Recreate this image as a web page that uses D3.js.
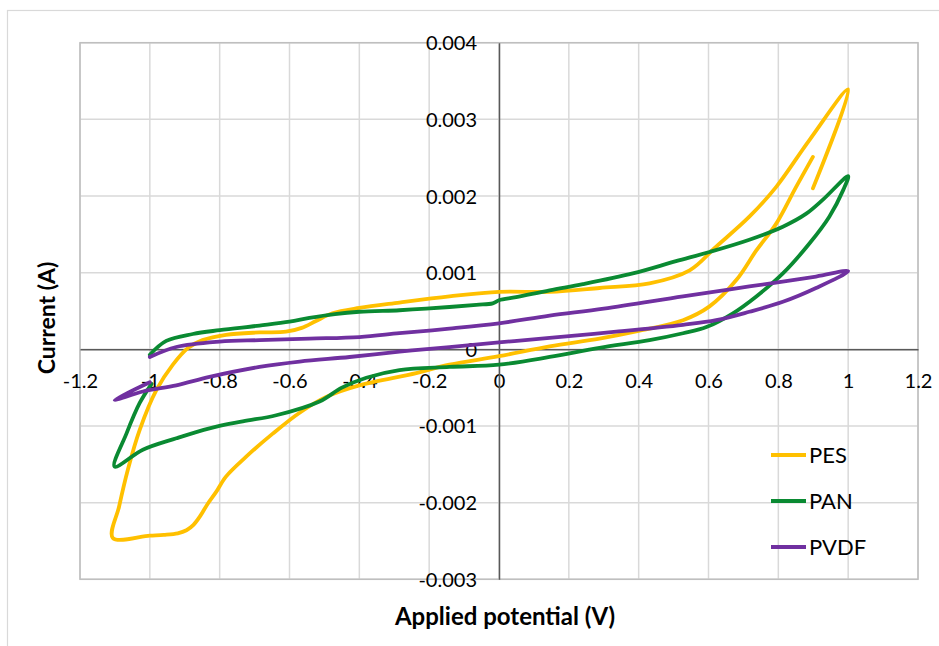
<!DOCTYPE html>
<html>
<head>
<meta charset="utf-8">
<script src="https://cdn.jsdelivr.net/npm/d3@7"></script>
<style>
body{margin:0;background:#fff;}
text{font-family:Lato,"Open Sans",sans-serif;fill:#000;}
</style>
</head>
<body>
<div id="chart"></div>
<script>
(function(){
var width = 939,
	height = 646,
	margin = {top:42.7, right:21, bottom:66.7, left:80};

// data: [applied potential (V), current (A)]
var pes = [[0.899,0.0021],[1.0,0.00339],[0.889,0.00273],[0.794,0.00212],[0.717,0.00173],[0.622,0.00134],[0.546,0.00103],
	[0.431,0.00086],[0.288,0.0008],[0.145,0.00075],[0,0.00075],[-0.142,0.00069],[-0.285,0.00061],[-0.4,0.00054],
	[-0.477,0.00047],[-0.524,0.00037],[-0.565,0.00028],[-0.61,0.00023],[-0.686,0.00022],[-0.782,0.00019],
	[-0.849,0.00012],[-0.89,0.00002],[-0.934,-0.0002],[-0.981,-0.00053],[-1.029,-0.00105],[-1.063,-0.00157],
	[-1.088,-0.00205],[-1.106,-0.00246],[-1.0,-0.00243],[-0.96,-0.00242],[-0.92,-0.0024],[-0.895,-0.00236],
	[-0.875,-0.00229],[-0.855,-0.00217],[-0.835,-0.00202],[-0.81,-0.00186],[-0.782,-0.00166],[-0.724,-0.0014],
	[-0.648,-0.0011],[-0.572,-0.00083],[-0.495,-0.00062],[-0.4,-0.00047],[-0.237,-0.00031],[-0.142,-0.0002],
	[0,-0.00009],[0.145,0.00004],[0.288,0.00014],[0.4,0.00024],[0.527,0.00038],[0.603,0.00056],[0.679,0.0009],
	[0.737,0.00129],[0.794,0.00164],[0.851,0.00212],[0.899,0.00251]];

var pan = [[-1.0,-0.00007],[-0.953,0.00011],[-0.877,0.0002],[-0.8,0.00025],[-0.686,0.00031],[-0.6,0.00036],
	[-0.543,0.00041],[-0.47,0.00046],[-0.4,0.00049],[-0.285,0.00051],[-0.209,0.00053],[-0.065,0.00058],
	[-0.018,0.0006],[0,0.00064],[0.049,0.00068],[0.145,0.00077],[0.24,0.00085],[0.383,0.00099],[0.507,0.00115],
	[0.603,0.00127],[0.717,0.00143],[0.813,0.0016],[0.88,0.00177],[0.927,0.00195],[1.0,0.00226],[0.986,0.00208],
	[0.946,0.00173],[0.889,0.00138],[0.813,0.00099],[0.737,0.00069],[0.67,0.00047],[0.594,0.00029],[0.527,0.00021],
	[0.431,0.00012],[0.288,0.00002],[0.145,-0.0001],[0,-0.0002],[-0.142,-0.00023],[-0.285,-0.00027],[-0.38,-0.00037],
	[-0.45,-0.0005],[-0.514,-0.00068],[-0.638,-0.00086],[-0.734,-0.00094],[-0.829,-0.00103],[-0.924,-0.00116],
	[-1.02,-0.00131],[-1.101,-0.00153],[-1.067,-0.0011],[-1.029,-0.0007],[-0.995,-0.00045]];

var pvdf = [[-1.0,-0.0001],[-0.924,0.00003],[-0.8,0.0001],[-0.686,0.00012],[-0.543,0.00014],[-0.4,0.00016],
	[-0.285,0.00021],[-0.142,0.00027],[0,0.00034],[0.145,0.00044],[0.3,0.00053],[0.527,0.00069],
	[0.717,0.00082],[0.908,0.00095],[1.0,0.00102],[0.908,0.0008],[0.813,0.00062],[0.717,0.00049],[0.622,0.00038],
	[0.527,0.00032],[0.336,0.00023],[0.145,0.00015],[0,0.00009],[-0.142,0.00003],[-0.285,-0.00003],[-0.428,-0.0001],
	[-0.571,-0.00016],[-0.686,-0.00023],[-0.829,-0.00036],[-0.924,-0.00047],[-1.02,-0.00055],[-1.101,-0.00066],
	[-1.0,-0.00043]];

var seriesNames = ["PES","PAN","PVDF"],
	seriesColors = ["#ffc000","#0a8a32","#7030a0"],
	seriesData = [pes, pan, pvdf];

var xTicks = [-1.2,-1,-0.8,-0.6,-0.4,-0.2,0,0.2,0.4,0.6,0.8,1,1.2],
	yTicks = [0.004,0.003,0.002,0.001,0,-0.001,-0.002,-0.003];

var X = d3.scaleLinear().domain([-1.2,1.2]).range([margin.left, width-margin.right]);
var Y = d3.scaleLinear().domain([-0.003,0.004]).range([height-margin.bottom, margin.top]);

var svg = d3.select("#chart").append("svg")
	.attr("width",width)
	.attr("height",height);

// outer chart frame (runs off the picture at right and bottom)
svg.append("rect")
	.attr("x",7.5).attr("y",10.5)
	.attr("width",1000).attr("height",1000)
	.attr("fill","none").attr("stroke","#d9d9d9").attr("stroke-width",1.2);

// gridlines
svg.append("g").selectAll("line").data(xTicks).enter().append("line")
	.attr("x1",function(d){return X(d)}).attr("x2",function(d){return X(d)})
	.attr("y1",Y(0.004)).attr("y2",Y(-0.003))
	.attr("stroke","#d9d9d9").attr("stroke-width",1.5);
svg.append("g").selectAll("line").data(yTicks).enter().append("line")
	.attr("x1",X(-1.2)).attr("x2",X(1.2))
	.attr("y1",function(d){return Y(d)}).attr("y2",function(d){return Y(d)})
	.attr("stroke","#d9d9d9").attr("stroke-width",1.5);

// plot border
svg.append("rect")
	.attr("x",X(-1.2)).attr("y",Y(0.004))
	.attr("width",X(1.2)-X(-1.2)).attr("height",Y(-0.003)-Y(0.004))
	.attr("fill","none").attr("stroke","#bfbfbf").attr("stroke-width",1.5);

// axes through zero
var xAxis = d3.axisBottom(X).tickValues(xTicks).tickSize(0);
var yAxis = d3.axisLeft(Y).tickValues(yTicks).tickSize(0);

var gx = svg.append("g").attr("transform","translate(0,"+Y(0)+")").call(xAxis);
gx.select(".domain").attr("stroke","#595959").attr("stroke-width",1.5);
gx.selectAll("text").attr("font-size",20).attr("dy",0).attr("y",39)
	.text(function(d){return d3.format("~g")(d).replace("\u2212","-")});

var gy = svg.append("g").attr("transform","translate("+X(0)+",0)").call(yAxis);
gy.select(".domain").attr("stroke","#595959").attr("stroke-width",1.5);
gy.selectAll("text").attr("font-size",20).attr("x",-22).attr("dy","0.35em")
	.text(function(d){return d===0 ? "0" : d3.format(".3f")(d).replace("\u2212","-")});
svg.selectAll(".tick text").style("font-family","Lato,'Open Sans',sans-serif").attr("fill","#000");

// curves
var line = d3.line()
	.x(function(d){return X(d[0])})
	.y(function(d){return Y(d[1])})
	.curve(d3.curveCatmullRom.alpha(0.5));

svg.append("g").selectAll("path").data(seriesData).enter().append("path")
	.attr("d",line)
	.attr("fill","none")
	.attr("stroke",function(d,i){return seriesColors[i]})
	.attr("stroke-width",3.8)
	.attr("stroke-linejoin","round")
	.attr("stroke-linecap","round");

// legend
var leg = svg.append("g").selectAll("g").data(seriesNames).enter().append("g")
	.attr("transform",function(d,i){return "translate(771,"+(455+i*46)+")"});
leg.append("line").attr("x1",0).attr("x2",35)
	.attr("stroke",function(d,i){return seriesColors[i]}).attr("stroke-width",4);
leg.append("text").attr("x",38).attr("dy","0.35em").attr("font-size",22).text(function(d){return d});

// axis titles
svg.append("text").attr("x",505).attr("y",617).attr("dy","0.35em")
	.attr("text-anchor","middle").attr("font-size",24).attr("font-weight","bold")
	.text("Applied potential (V)");
svg.append("text").attr("transform","translate(47,318) rotate(-90)").attr("dy","0.35em")
	.attr("text-anchor","middle").attr("font-size",23).attr("font-weight","bold")
	.text("Current (A)");

})()
</script>
</body>
</html>
